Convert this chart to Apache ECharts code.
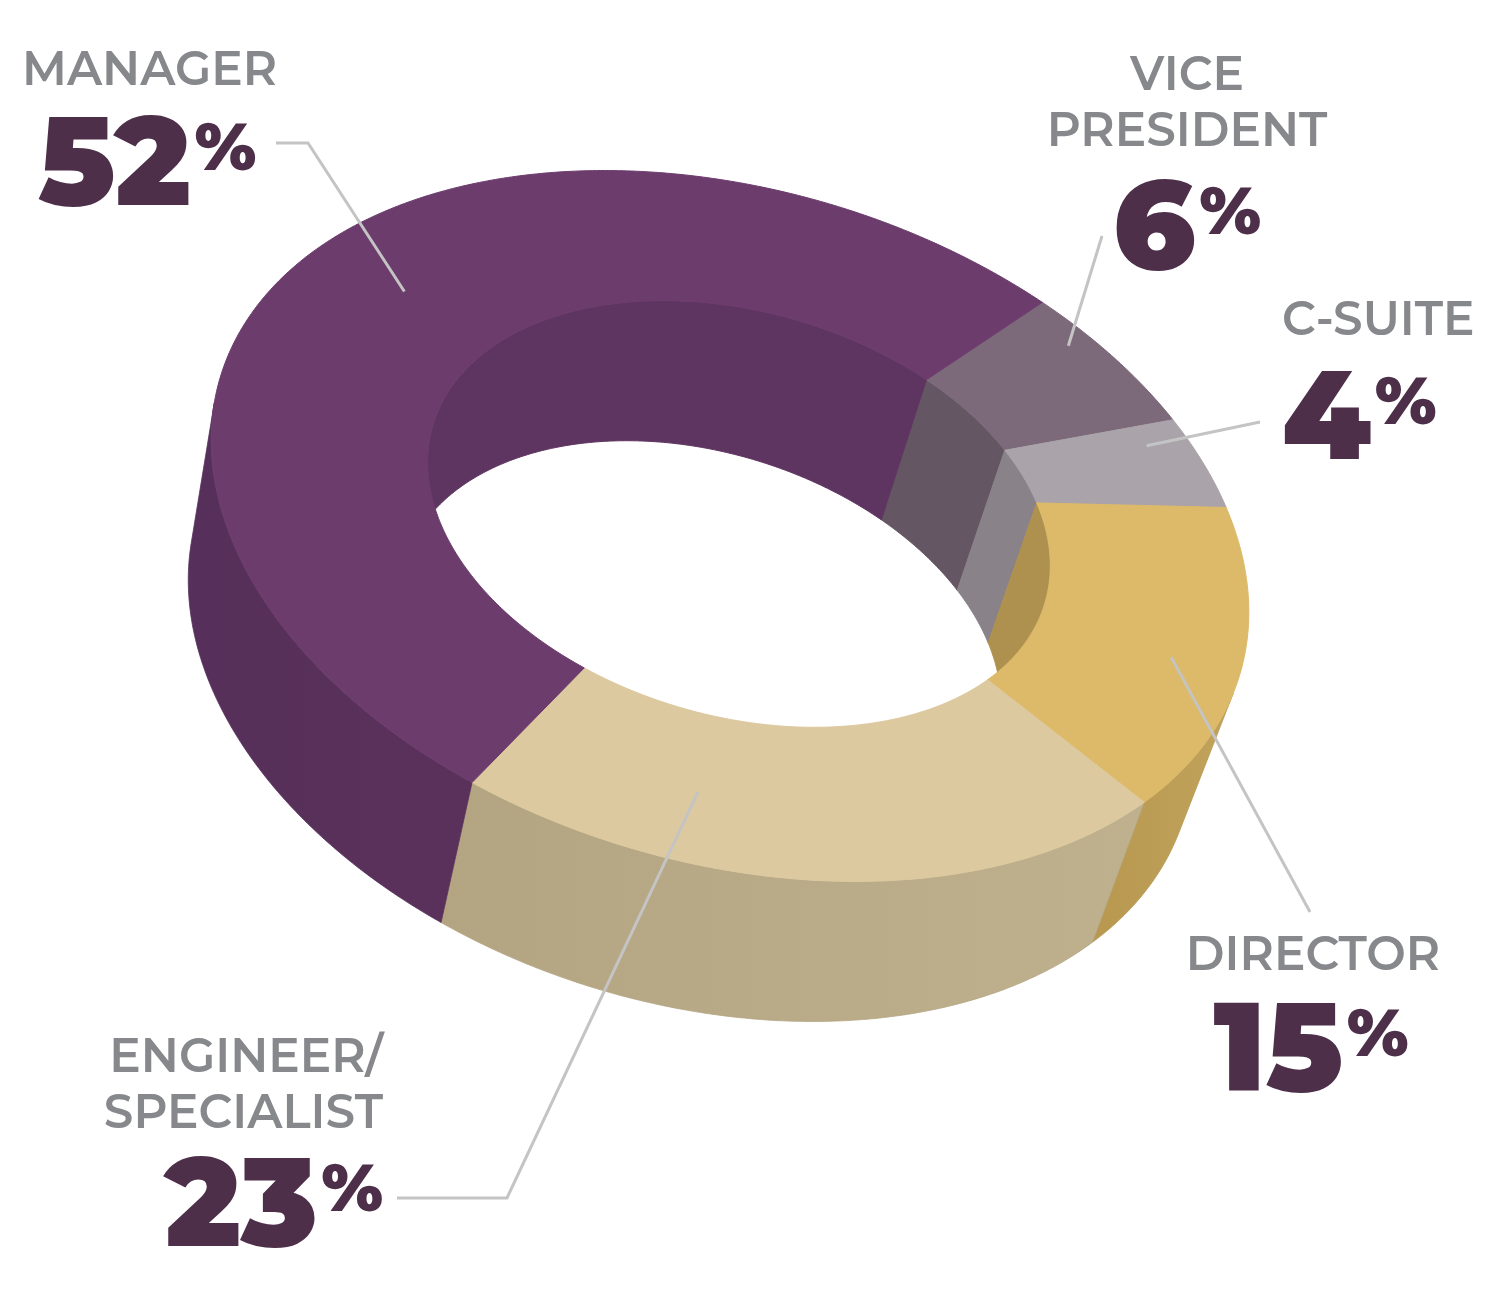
<!DOCTYPE html>
<html lang="en">
<head>
<meta charset="UTF-8">
<title>Job level</title>
<style>
	html, body { margin: 0; padding: 0; background: #ffffff; }
	#main { width: 1500px; height: 1300px; }
</style>
</head>
<body>
<div id="main"></div>
<script src="https://cdn.jsdelivr.net/npm/echarts@6/dist/echarts.min.js"></script>
<script>
// data, clockwise from the top right
var categories = ['VICE\nPRESIDENT', 'C-SUITE', 'DIRECTOR', 'ENGINEER/\nSPECIALIST', 'MANAGER'];
var values = [6, 4, 15, 23, 52];
var topColors = ['#7c6a7b', '#aaa3a9', '#dcba69', '#ddc99f', '#6c3c6d'];
var outerWallColors = [['#6a5a69', '#6a5a69'], ['#918a90', '#918a90'], ['#b8984f', '#c1a35c'], ['#b3a482', '#bfb18e'], ['#56305a', '#5a315b']];
var innerWallColors = ['#645663', '#898389', '#af914f', '#a8966e', '#5e3460'];

// ring geometry (screen px), a tilted ellipse extruded downwards
var ring = {
	cx: 730, cy: 526, a: 531, b: 337, rot: 16,
	icx: 739, icy: 514, ratio: 0.6,
	start: -63.3,
	depth: 140, skew: -39, taper: 0.031
};

// label placement: name block, percent, leader line
var labelLayout = [
	{ x: 1187, pctX: 1187, align: 'center', nameY: 58, pctY: 180, line: [[1102, 236]], anchor: [0.31, 0.85] },
	{ x: 1282, pctX: 1282, align: 'left', nameY: 303, pctY: 370, line: [[1260, 422]], anchor: [0.24, 0.76] },
	{ x: 1313, pctX: 1311, align: 'center', nameY: 938, pctY: 1002, line: [[1310, 912]], anchor: [0.54, 0.66] },
	{ x: 383, pctX: 383, align: 'right', nameY: 1040, pctY: 1157, line: [[397, 1198], [507, 1198]], anchor: [0.7, 0.52] },
	{ x: 22, pctX: 38, align: 'left', nameY: 53, pctY: 116, line: [[276, 143], [308, 143]], anchor: [0.527, 0.53] }
];

var FONT = 'Montserrat, Lato, "Noto Sans", sans-serif';
var GRAY = '#87888b';
var PURPLE = '#4d2f4a';

var total = values.reduce(function (s, v) { return s + v; }, 0);
var starts = [];
(function () {
	var acc = ring.start;
	for (var i = 0; i < values.length; i++) {
		starts.push(acc);
		acc += values[i] / total * 360;
	}
})();

function rad(d) { return d * Math.PI / 180; }

function outerPt(t) {
	var c = Math.cos(rad(ring.rot)), s = Math.sin(rad(ring.rot));
	var u = ring.a * Math.cos(rad(t)), v = ring.b * Math.sin(rad(t));
	return [ring.cx + u * c - v * s, ring.cy + u * s + v * c];
}
function innerPt(t) {
	var c = Math.cos(rad(ring.rot)), s = Math.sin(rad(ring.rot));
	var u = ring.a * Math.cos(rad(t)) * ring.ratio, v = ring.b * Math.sin(rad(t)) * ring.ratio;
	return [ring.icx + u * c - v * s, ring.icy + u * s + v * c];
}
function drop(p) {
	return [p[0] + ring.skew - ring.taper * (p[0] - ring.cx), p[1] + ring.depth];
}
function area(pts) {
	var s = 0;
	for (var i = 0; i < pts.length; i++) {
		var p = pts[i], q = pts[(i + 1) % pts.length];
		s += p[0] * q[1] - q[0] * p[1];
	}
	return s;
}

// wall pieces that face the viewer (outer: negative winding, inner: positive)
function wallRuns(ptFn, t0, t1, positive) {
	var n = Math.max(2, Math.ceil(Math.abs(t1 - t0) / 0.5));
	var runs = [], cur = null;
	for (var k = 0; k < n; k++) {
		var p1 = ptFn(t0 + (t1 - t0) * k / n), p2 = ptFn(t0 + (t1 - t0) * (k + 1) / n);
		var q1 = drop(p1), q2 = drop(p2);
		var ar = area([p1, p2, q2, q1]);
		var vis = positive ? ar > 0 : ar < 0;
		if (vis) {
			if (!cur) cur = { top: [p1], bot: [q1] };
			cur.top.push(p2);
			cur.bot.push(q2);
		} else if (cur) {
			runs.push(cur);
			cur = null;
		}
	}
	if (cur) runs.push(cur);
	return runs.map(function (r) { return r.top.concat(r.bot.reverse()); });
}

function renderItem(params, api) {
	var i = params.dataIndex;
	var val = api.value(0);
	var t0 = starts[i], t1 = t0 + val / total * 360;
	var children = [];

	wallRuns(outerPt, t0, t1, false).forEach(function (pts) {
		var fill = new echarts.graphic.LinearGradient(0, 0, 1, 0, [
			{ offset: 0, color: outerWallColors[i][0] },
			{ offset: 1, color: outerWallColors[i][1] }
		]);
		children.push({ type: 'polygon', z2: 1, shape: { points: pts },
			style: { fill: fill, stroke: outerWallColors[i][0], lineWidth: 0.8 } });
	});
	wallRuns(innerPt, t0, t1, true).forEach(function (pts) {
		children.push({ type: 'polygon', z2: 1, shape: { points: pts },
			style: { fill: innerWallColors[i], stroke: innerWallColors[i], lineWidth: 1 } });
	});

	var n = Math.max(2, Math.ceil((t1 - t0) / 0.5));
	var topPts = [];
	for (var k = 0; k <= n; k++) topPts.push(outerPt(t0 + (t1 - t0) * k / n));
	for (var k2 = n; k2 >= 0; k2--) topPts.push(innerPt(t0 + (t1 - t0) * k2 / n));
	children.push({ type: 'polygon', z2: 5, shape: { points: topPts },
		style: { fill: topColors[i], stroke: topColors[i], lineWidth: 1 } });

	var lay = labelLayout[i];
	var ta = t0 + (t1 - t0) * lay.anchor[0];
	var pi = innerPt(ta), po = outerPt(ta), sf = lay.anchor[1];
	var anchorPt = [pi[0] + (po[0] - pi[0]) * sf, pi[1] + (po[1] - pi[1]) * sf];
	children.push({ type: 'polyline', z2: 10, shape: { points: lay.line.concat([anchorPt]) },
		style: { stroke: '#c4c4c4', lineWidth: 3, fill: null } });

	children.push({ type: 'text', z2: 10, style: {
		x: lay.x, y: lay.nameY - 10, text: categories[i], align: lay.align, verticalAlign: 'top',
		fontFamily: FONT, fontSize: 47, fontWeight: 600, lineHeight: 56, fill: GRAY } });
	children.push({ type: 'text', z2: 10, style: {
		x: lay.pctX, y: lay.pctY - 10, text: '{n|' + val + '}{p|%}', align: lay.align, verticalAlign: 'top',
		rich: {
			n: { fontFamily: FONT, fontSize: 125, fontWeight: 900, lineHeight: 125, fill: PURPLE },
			p: { fontFamily: FONT, fontSize: 67, fontWeight: 900, lineHeight: 67, fill: PURPLE,
				verticalAlign: 'top', padding: [11, 0, 0, 4] }
		} } });

	return { type: 'group', children: children };
}

var myChart = echarts.init(document.getElementById('main'));
myChart.setOption({
	backgroundColor: '#ffffff',
	animation: false,
	series: [{
		type: 'custom',
		coordinateSystem: 'none',
		renderItem: renderItem,
		data: values.map(function (v) { return [v]; })
	}]
});
</script>
</body>
</html>
